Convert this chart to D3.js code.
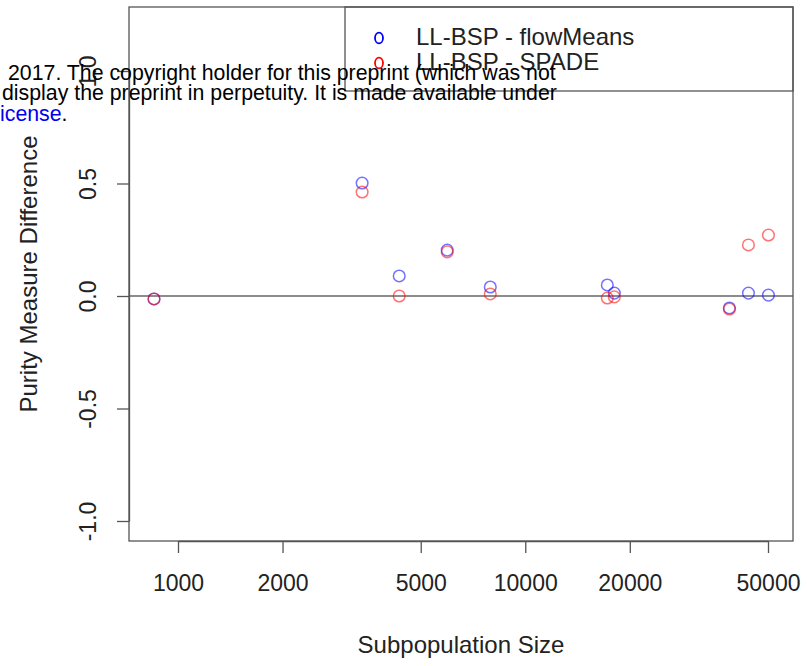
<!DOCTYPE html>
<html>
<head>
<meta charset="utf-8">
<script src="https://cdn.jsdelivr.net/npm/d3@7"></script>
<style>
body { margin: 0; background: #fff; }
text { font-family: "Liberation Sans", Arial, sans-serif; }
</style>
</head>
<body>
<div id="chart"></div>
<script>
var width = 807, height = 666;

// subpopulation sizes (shared by both series)
var sizes = [853, 3390, 4335, 5960, 7930, 17230, 18050, 38710, 43920, 50150];
var flowMeans = [-0.013, 0.502, 0.089, 0.204, 0.040, 0.049, 0.013, -0.053, 0.013, 0.004];
var spade = [-0.013, 0.462, 0.000, 0.196, 0.009, -0.009, -0.004, -0.058, 0.227, 0.271];

var xTicks = [1000, 2000, 5000, 10000, 20000, 50000];
var yTicks = [-1, -0.5, 0, 0.5, 1];
var seriesNames = ["LL-BSP - flowMeans", "LL-BSP - SPADE"];
var seriesColors = ["#0000ff", "#ff0000"];

var watermark = ["2017. The copyright holder for this preprint (which was not",
                 "display the preprint in perpetuity. It is made available under"];

var plot = {left: 129, right: 793, top: 7, bottom: 541};
var axisColor = "#555";

var svg = d3.select("#chart").append("svg").attr("width", width).attr("height", height);

var x = d3.scaleLog().domain([1000, 50000]).range([178, 768]);
var y = d3.scaleLinear().domain([-1, 1]).range([521, 71]);

// zero reference line
svg.append("line")
    .attr("x1", plot.left).attr("x2", plot.right)
    .attr("y1", y(0)).attr("y2", y(0))
    .attr("stroke", "#8c8c8c").attr("stroke-width", 2);

// points, flowMeans first then SPADE on top
[flowMeans, spade].forEach(function(vals, si){
    svg.append("g").selectAll("circle")
        .data(vals.map(function(v, i){ return {size: sizes[i], value: v}; }))
        .enter().append("circle")
            .attr("cx", function(d){ return x(d.size); })
            .attr("cy", function(d){ return y(d.value); })
            .attr("r", 5.8)
            .attr("fill", "none")
            .attr("stroke", seriesColors[si])
            .attr("stroke-opacity", 0.55)
            .attr("stroke-width", 1.5);
});

// box
svg.append("rect")
    .attr("x", plot.left).attr("y", plot.top)
    .attr("width", plot.right - plot.left).attr("height", plot.bottom - plot.top)
    .attr("fill", "none").attr("stroke", axisColor).attr("stroke-width", 1.3);

// x axis
var xAxis = svg.append("g")
    .attr("transform", "translate(0," + plot.bottom + ")")
    .call(d3.axisBottom(x).tickValues(xTicks).tickSize(12).tickSizeOuter(0).tickFormat(d3.format("d")));
xAxis.select(".domain").attr("stroke", axisColor).attr("stroke-width", 1.3);
xAxis.selectAll(".tick line").attr("stroke", axisColor).attr("stroke-width", 1.3);
xAxis.selectAll(".tick text").attr("y", 34).attr("dy", "0.71em")
    .attr("font-size", 23).attr("font-family", "Liberation Sans, Arial, sans-serif").attr("fill", "#222");

// y axis, labels rotated like R's default las = 0
var yAxis = svg.append("g")
    .attr("transform", "translate(" + plot.left + ",0)")
    .call(d3.axisLeft(y).tickValues(yTicks).tickSize(12).tickSizeOuter(0)
        .tickFormat(function(d){ return d.toFixed(1); }));
yAxis.select(".domain").attr("stroke", axisColor).attr("stroke-width", 1.3);
yAxis.selectAll(".tick line").attr("stroke", axisColor).attr("stroke-width", 1.3);
yAxis.selectAll(".tick text")
    .attr("x", null).attr("dy", null)
    .attr("transform", "translate(-33,0) rotate(-90)")
    .attr("text-anchor", "middle")
    .attr("font-size", 23).attr("font-family", "Liberation Sans, Arial, sans-serif").attr("fill", "#222");

// axis titles
svg.append("text")
    .attr("x", (plot.left + plot.right) / 2).attr("y", 653)
    .attr("text-anchor", "middle").attr("font-size", 24).attr("fill", "#222")
    .text("Subpopulation Size");
svg.append("text")
    .attr("transform", "translate(37," + ((plot.top + plot.bottom) / 2) + ") rotate(-90)")
    .attr("text-anchor", "middle").attr("font-size", 24).attr("fill", "#222")
    .text("Purity Measure Difference");

// legend
svg.append("rect")
    .attr("x", 345).attr("y", plot.top)
    .attr("width", plot.right - 345).attr("height", 91 - plot.top)
    .attr("fill", "none").attr("stroke", axisColor).attr("stroke-width", 1.3);
var leg = svg.append("g").selectAll("g")
    .data(seriesNames)
    .enter().append("g")
        .attr("transform", function(d, i){ return "translate(0," + (45 + i * 25) + ")"; });
leg.append("ellipse")
    .attr("cx", 379).attr("cy", -7).attr("rx", 4).attr("ry", 5.4)
    .attr("fill", "none").attr("stroke-width", 1.8)
    .attr("stroke", function(d, i){ return seriesColors[i]; });
leg.append("text")
    .attr("x", 416).attr("font-size", 24).attr("fill", "#222")
    .text(function(d){ return d; });

// preprint watermark overlay
var wm = svg.append("g").attr("font-size", 21.3).attr("fill", "#000");
wm.selectAll("text.line")
    .data(watermark)
    .enter().append("text")
        .attr("class", "line")
        .attr("x", function(d, i){ return i === 0 ? 8 : 2; })
        .attr("y", function(d, i){ return 80 + i * 20; })
        .text(function(d){ return d; });
var last = wm.append("text").attr("x", 0).attr("y", 121);
last.append("tspan").attr("fill", "#0000ee").text("icense");
last.append("tspan").text(".");
</script>
</body>
</html>
